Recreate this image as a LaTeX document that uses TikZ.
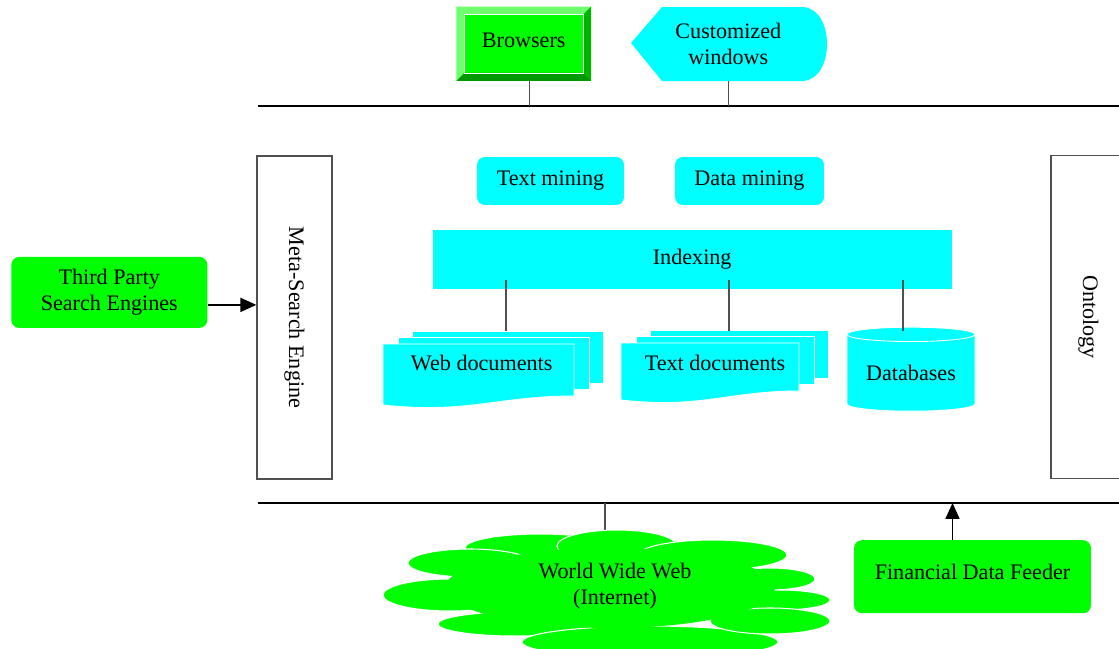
\documentclass[tikz,border=0pt]{standalone}
\usepackage{fontspec}
\setmainfont{Liberation Serif}
\usetikzlibrary{arrows.meta,shapes.geometric}
\definecolor{Lime}{RGB}{0,255,0}
\definecolor{PaleLime}{RGB}{110,255,110}
\definecolor{DarkLime}{RGB}{0,180,0}
\definecolor{Aqua}{RGB}{0,255,255}
\definecolor{LineGray}{RGB}{80,80,80}
\definecolor{FrameGray}{RGB}{80,80,80}

\tikzset{
  greenbox/.style={fill=Lime, rounded corners=4.5pt, align=center, inner sep=0pt},
  aquabox/.style={fill=Aqua, rounded corners=4.5pt, inner sep=0pt},
  sidebox/.style={draw=FrameGray, line width=0.8pt, minimum width=1.5cm, minimum height=6.46cm, inner sep=0pt},
  link/.style={draw=LineGray, line width=0.7pt},
  bus/.style={draw=black, line width=0.7pt},
  feed/.style={draw=black, line width=0.7pt, -{Triangle[length=9pt,width=8pt]}},
  page/.style={fill=Aqua, draw=white, line width=0.5pt},
  puff/.style={fill=Lime, draw=white, line width=0.6pt}
}

\begin{document}
\begin{tikzpicture}[x=0.02cm, y=-0.02cm, font=\fontsize{12.6}{15}\selectfont]
    \useasboundingbox (0,0) rectangle (1119,649);

    % the two bus lines
    \coordinate (topl) at (258,106);
    \coordinate (topr) at (1119,106);
    \coordinate (botl) at (258,503);
    \coordinate (botr) at (1119,503);
    \draw[bus] (topl) -- (topr);
    \draw[bus] (botl) -- (botr);

    % browsers, bevelled button
    \node[fill=Lime, minimum width=2.68cm, minimum height=1.47cm, inner sep=0pt] (br) at (523.7,43.8) {\raisebox{0.14cm}{Browsers}};
    \fill[PaleLime] (br.north west) -- (br.north east) -- ([shift={(-8,8)}]br.north east) -- ([shift={(8,8)}]br.north west) -- cycle;
    \fill[PaleLime] (br.north west) -- ([shift={(8,8)}]br.north west) -- ([shift={(8,-8)}]br.south west) -- (br.south west) -- cycle;
    \fill[DarkLime] (br.north east) -- (br.south east) -- ([shift={(-8,-8)}]br.south east) -- ([shift={(-8,8)}]br.north east) -- cycle;
    \fill[DarkLime!85!black] (br.south west) -- (br.south east) -- ([shift={(-8,-8)}]br.south east) -- ([shift={(8,-8)}]br.south west) -- cycle;
    \draw[white, line width=0.4pt] ([shift={(8,8)}]br.north west) rectangle ([shift={(-8,-8)}]br.south east);
    \draw[link] ([xshift=0.12cm]br.south) -- ([xshift=0.12cm]br.south |- topl);

    % customized windows
    \fill[Aqua] (631,43) -- (662,7) -- (803,7) .. controls (835,9) and (835,79) .. (803,81) -- (662,81) -- cycle;
    \node[align=center, minimum height=1.48cm] (cw) at (728.3,44) {Customized\\windows};
    \draw[link] (cw.south) -- (cw.south |- topl);

    % side boxes
    \node[sidebox] (meta) at (294.5,317.5) {\rotatebox{-90}{Meta-Search Engine}};
    \node[sidebox] (onto) at (1088.5,317) {\rotatebox{-90}{Ontology}};

    \node[greenbox, minimum width=3.92cm, minimum height=1.42cm] (tp) at (109.3,292.4) {Third Party\\Search Engines};
    \draw[feed] ([yshift=-0.25cm]tp.east) -- ([yshift=-0.25cm]tp.east -| meta.west);

    % mining and indexing
    \node[aquabox, minimum width=2.94cm, minimum height=0.96cm] (tmine) at (550.5,181) {Text mining};
    \node[aquabox, minimum width=2.98cm, minimum height=0.96cm] (dmine) at (749.5,181) {Data mining};
    \node[fill=Aqua, minimum width=10.39cm, minimum height=1.18cm, inner sep=0pt] (idx) at (692.2,259.5) {\raisebox{0.09cm}{Indexing}};

    % document stacks
    \foreach \x/\y/\w/\h in {383/344/191/52, 621/343/178/48}{
        \path[page] ({\x+29},{\y-13}) rectangle ++(\w,\h);
        \path[page] ({\x+15},{\y-7}) rectangle ++(\w,\h);
        \path[page] (\x,\y) -- ++(\w,0) -- ++(0,\h) .. controls ({\x+0.6*\w},{\y+\h}) and ({\x+0.45*\w},{\y+\h+18}) .. (\x,{\y+\h+9}) -- cycle;
    }
    \node (wdoc) at (481.7,363) {Web documents};
    \node (tdoc) at (715,363) {Text documents};
    \node[cylinder, shape border rotate=90, aspect=0.16, minimum width=2.56cm, minimum height=1.68cm, inner sep=0pt,
          fill=Aqua, draw=white, line width=0.5pt] (db) at (911,373) {Databases};

    \coordinate (wtop) at (506,331);
    \coordinate (ttop) at (729,331);
    \coordinate (dtop) at (903,331);
    \foreach \c in {wtop,ttop,dtop}
        \draw[link] ([yshift=0.18cm]idx.south -| \c) -- (\c);

    % internet cloud
    \coordinate (wwwtop) at (605,530);
    \draw[link] (wwwtop |- botl) -- (wwwtop);
    \foreach \cx/\cy/\rx/\ry in {540/548/75/14, 617/546/60/16, 713/555/74/15, 470/563/62/14, 450/595/67/16,
                                515/624/77/12, 650/642/128/16, 770/579/45/11, 780/600/50/10, 770/621/60/13}
        \path[puff] (\cx,\cy) ellipse [x radius=\rx, y radius=\ry];
    \fill[Lime] (610,588) ellipse [x radius=165, y radius=40];
    \node[align=center] (www) at (615,586) {World Wide Web\\(Internet)};

    % financial feeder
    \node[greenbox, minimum width=4.74cm, minimum height=1.46cm] (fin) at (972.5,576.7) {\raisebox{0.2cm}{Financial Data Feeder}};
    \draw[feed] ([xshift=-0.4cm]fin.north) -- ([xshift=-0.4cm]fin.north |- botl);
\end{tikzpicture}
\end{document}
